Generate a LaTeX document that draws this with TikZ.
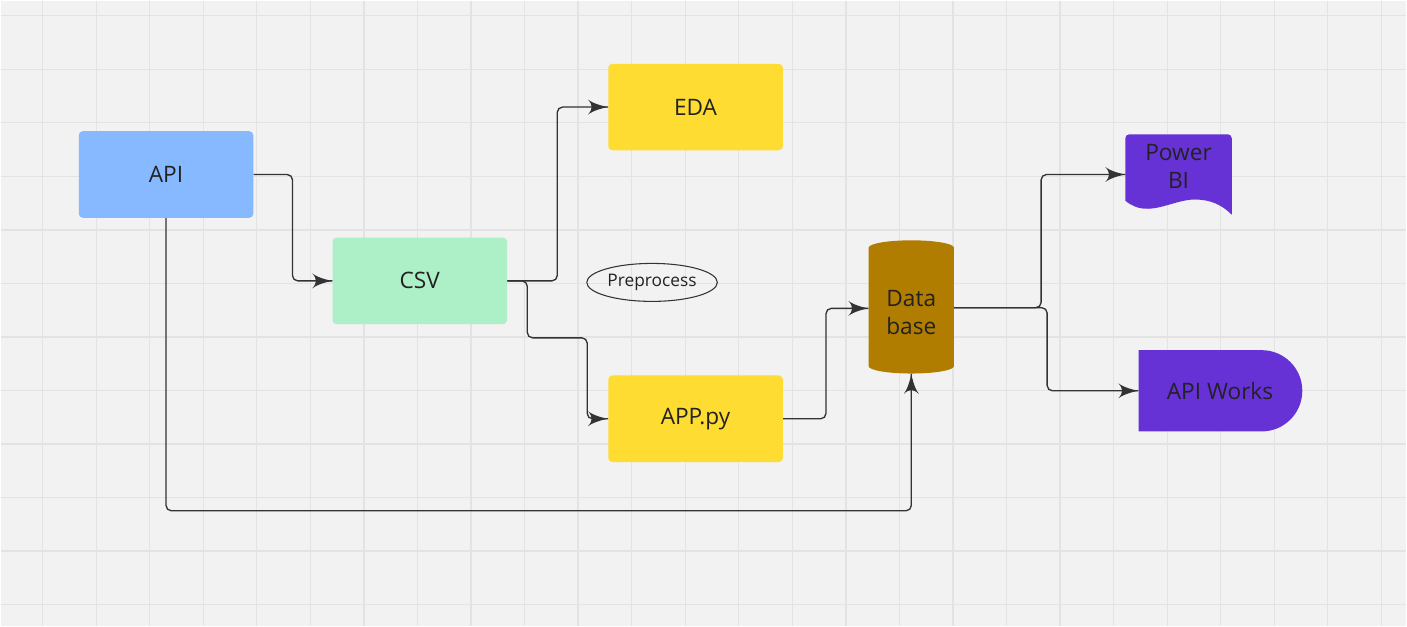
\documentclass[tikz,border=0pt]{standalone}
\usepackage{fontspec}
\setmainfont{Open Sans}
\usetikzlibrary{arrows}
\usetikzlibrary{decorations.markings}
\usetikzlibrary{shapes.geometric}
\usetikzlibrary{shapes.misc}
\usetikzlibrary{backgrounds}
\usetikzlibrary{calc}
\definecolor{canvas}{HTML}{F2F2F2}
\definecolor{gridgray}{HTML}{E3E3E3}
\definecolor{ink}{HTML}{222222}
\definecolor{wire}{HTML}{333333}
\definecolor{apiblue}{HTML}{86B9FF}
\definecolor{csvgreen}{HTML}{ADF0C8}
\definecolor{sunyellow}{HTML}{FFDC32}
\definecolor{dbgold}{HTML}{B07D00}
\definecolor{bipurple}{HTML}{6632D6}
\tikzset{->/.style = {decoration={markings,
                                  mark=at position 1 with {\arrow[scale=2.6]{latex'}}},
                      postaction={decorate}}}
\tikzset{gridline/.style = {draw = gridgray, line width = 1pt}}
\tikzset{label font/.style = {font = \fontsize{17}{21}\selectfont, text = ink}}
\tikzset{box/.style = {rectangle, rounded corners = 3, minimum width = 131pt,
                       minimum height = 65pt, label font}}
\tikzset{link/.style = {draw = wire, line width = 1pt, rounded corners = 4}}

\begin{document}
\begin{tikzpicture}[x = 0.75pt, y = -0.75pt]
  \begin{pgfonlayer}{background}
    \fill [canvas] (0, 0) rectangle (1407, 626);
    \foreach \i in {0, ..., 25}
      \draw [gridline] ({42 + 53.6*\i}, 0) -- ({42 + 53.6*\i}, 626);
    \foreach \j in {0, ..., 11}
      \draw [gridline] (0, {15 + 53.6*\j}) -- (1407, {15 + 53.6*\j});
  \end{pgfonlayer}
  \useasboundingbox (0, 0) rectangle (1407, 626);

  \node (api) [box, fill = apiblue] at (165.5, 174) {API};
  \node (csv) [box, fill = csvgreen] at (419.5, 280.5) {CSV};
  \node (eda) [box, fill = sunyellow] at (695.5, 106.5) {EDA};
  \node (app) [box, fill = sunyellow] at (695.5, 418.5) {APP.py};
  \node (pre) [ellipse, draw = wire, line width = 0.8pt, inner sep = 0,
               minimum width = 98pt, minimum height = 28.5pt,
               font = \fontsize{13}{15}\selectfont, text = ink] at (652, 282) {Preprocess};
  \node (db) [cylinder, shape border rotate = 90, aspect = 0.25, fill = dbgold,
              minimum width = 64pt, minimum height = 100pt, align = center,
              label font] at (911.5, 312) {Data\\base};
  \node (pbi) [minimum width = 79.5pt, minimum height = 48pt, align = center,
               label font] at (1179, 166) {Power\\BI};
  \node (works) [rounded rectangle, rounded rectangle left arc = none, fill = bipurple,
                 minimum width = 129.5pt, minimum height = 61pt, label font]
                 at (1220.5, 390.5) {API Works};

  % wavy bottom of the Power BI sheet
  \begin{pgfonlayer}{background}
    \fill [bipurple, rounded corners = 3]
      ($(pbi.south west) + (0, 2)$) -- (pbi.north west) -- (pbi.north east)
      [sharp corners] -- ($(pbi.south east) + (0, 16)$)
      .. controls ($(pbi.south east) + (-7, 9)$) and ($(pbi.south east) + (-17, 2)$)
      .. ($(pbi.south east) + (-32, 1)$)
      .. controls ($(pbi.south west) + (49, -2)$) and ($(pbi.south west) + (24, 22)$)
      .. ($(pbi.south west) + (0, 2)$) -- cycle;
  \end{pgfonlayer}

  \draw [link, ->] (api.east) -- ++(39, 0) |- (csv.west);
  \draw [link, ->] (api.south) -- ++(0, 293) -| (db.south);
  \draw [link, ->] (csv.east) -- ++(50, 0) |- (eda.west);
  \draw [link, ->] (csv.east) -- ++(20, 0) -- ++(0, 57) -- ++(60, 0) |- (app.west);
  \draw [link, ->] (app.east) -- ++(43, 0) |- ([yshift = 3pt] db.west);
  \draw [link, ->] ([yshift = 3.5pt] db.east) -- ++(87, 0) |- ([yshift = -6pt] pbi.west);
  \draw [link, ->] ([yshift = 3.5pt] db.east) -- ++(93, 0) |- (works.west);
\end{tikzpicture}
\end{document}
